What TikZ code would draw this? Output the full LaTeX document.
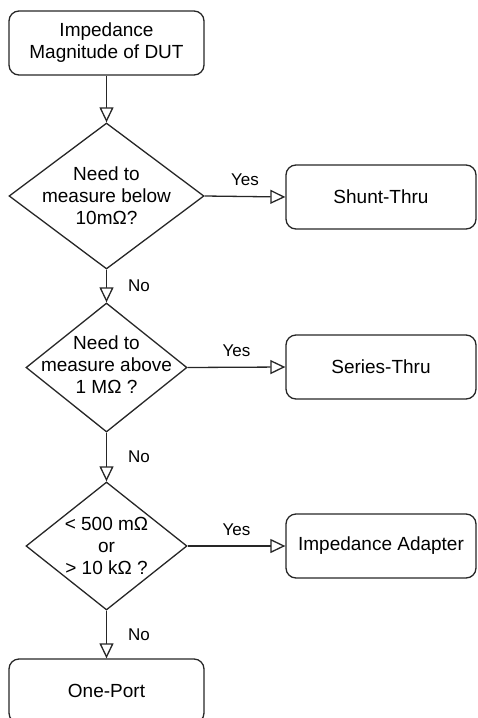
\documentclass[tikz,border=0pt]{standalone}
\usepackage{fontspec}
\setmainfont{Liberation Sans}
\usetikzlibrary{shapes.geometric,arrows.meta}
\begin{document}
\begin{tikzpicture}[x=1pt,y=-1pt,
  box/.style={draw=black!85, rounded corners=10pt, line width=1.3pt, minimum width=195pt, minimum height=64pt, align=center, font=\fontsize{19}{22}\selectfont, inner sep=0pt},
  rbox/.style={box, minimum width=190pt},
  dia/.style={draw=black!85, diamond, line width=1.3pt, inner sep=0pt},
  dtext/.style={align=center, font=\fontsize{19}{22}\selectfont, inner sep=0pt},
  conn/.style={draw=black!85, line width=1.3pt, -{Triangle[open,length=15pt,width=14pt,line width=1.3pt,fill=white]}},
  lab/.style={font=\fontsize{17}{20}\selectfont, inner sep=0pt}]
\clip (0,0) rectangle (477,718);
\node[box] (top) at (106.5,43) {Impedance\\Magnitude of DUT};
\node[dia, minimum width=195pt, minimum height=146pt] (d1) at (106.5,196) {};
\node[dtext] (d1t) at (d1.center) {Need to\\measure below\\10mΩ?};
\node[dia, minimum width=161pt, minimum height=129pt] (d2) at (106.5,367.5) {};
\node[dtext] (d2t) at (106.5,365) {Need to\\measure above\\1 MΩ ?};
\node[dia, minimum width=161pt, minimum height=128pt] (d3) at (106.5,546) {};
\node[dtext] (d3t) at (d3.center) {< 500 mΩ\\or\\> 10 kΩ ?};
\node[box] (one) at (106.5,691) {One-Port};
\node[rbox] (shunt) at (381,197) {Shunt-Thru};
\node[rbox] (series) at (381,367) {Series-Thru};
\node[rbox] (adapt) at (381,546) {Impedance Adapter};
\draw[conn] (top) -- (d1);
\draw[conn] (d1) -- node[lab, anchor=west, xshift=21pt] {No} (d2);
\draw[conn] (d2) -- node[lab, anchor=west, xshift=21pt] {No} (d3);
\draw[conn] (d3) -- node[lab, anchor=west, xshift=21pt] {No} (one);
\draw[conn] (d1.east) -- node[lab, anchor=base, yshift=11pt] {Yes} (shunt.west);
\draw[conn] (d2.east) -- node[lab, anchor=base, yshift=11pt] {Yes} (series.west);
\draw[conn] (d3.east) -- node[lab, anchor=base, yshift=11pt] {Yes} (adapt.west);
\end{tikzpicture}
\end{document}
